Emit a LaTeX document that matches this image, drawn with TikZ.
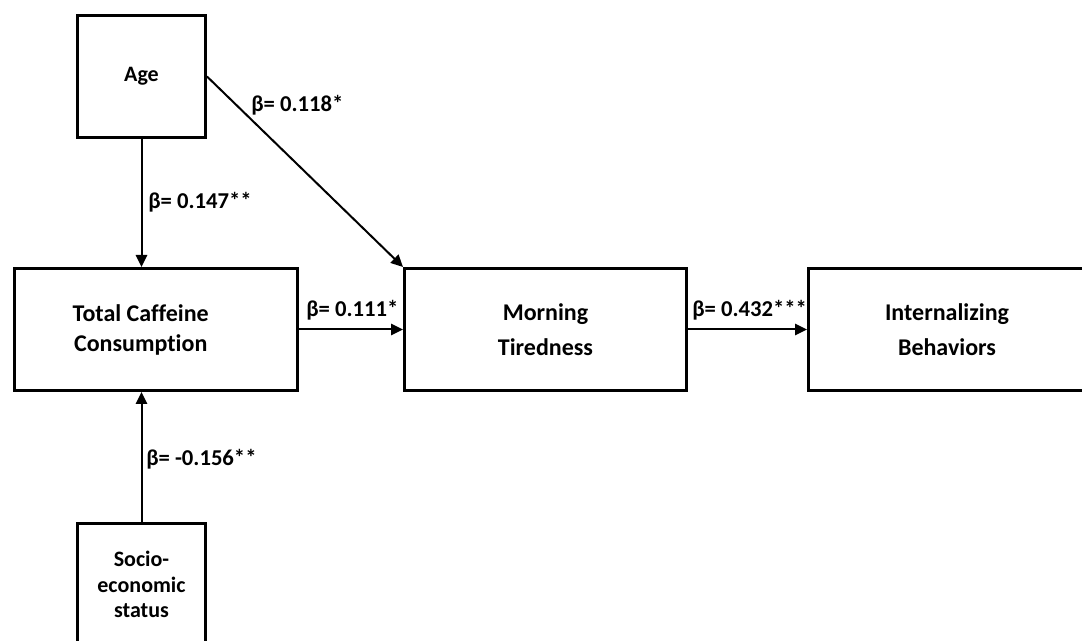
\documentclass[tikz,border=0pt]{standalone}
\usepackage{fontspec}
\setmainfont{Carlito}[Ligatures=NoCommon]
\usetikzlibrary{arrows.meta,positioning}

\begin{document}
\begin{tikzpicture}[x=0.75pt, y=-0.75pt,
	>={Triangle[length=9pt,width=8.5pt]},
	box/.style={draw, line width=2.25pt, minimum width=#1, minimum height=91.5pt,
		inner sep=0pt, align=center},
	boxtext/.style 2 args={align=center, font=\fontsize{#1}{#2}\selectfont\bfseries},
	coef/.style={anchor=base west, inner sep=0pt, font=\fontsize{17}{20}\selectfont\bfseries},
	path/.style={->, line width=1.5pt}]
	
	% Page frame
	\useasboundingbox (0,0) rectangle (1082,641);
	
	% Cut-off caption above the figure
	\node[anchor=base, font=\fontsize{17}{20}\selectfont\bfseries] (caption) at (15,-3.5) {g};
	
	% Boxes (variables)
	\node[box=96pt] (age) at (141.5,76.5) {};
	\node[box=212pt] (tcc) at (155.8,329.5) {};
	\node[box=211.5pt] (mt) at (545.5,329.5) {};
	\node[box=207.75pt] (ib) at (947,329.5) {};
	\node[box=96pt] (ses) at (141.5,584.5) {};
	
	% Texts inside the boxes
	\node[boxtext={16.5}{20}] (age-text) at (age.center) {Age};
	\node[boxtext={18}{22.5}] (tcc-text) at ([xshift=-11.3pt]tcc.center) {Total Caffeine\\Consumption};
	\node[boxtext={18}{26.25}] (mt-text) at (mt.center) {Morning\\Tiredness};
	\node[boxtext={18}{26.25}] (ib-text) at (ib.center) {Internalizing\\Behaviors};
	\node[boxtext={16.5}{19}] (ses-text) at (ses.center) {Socio-\\economic\\status};
	
	% Paths
	\draw[path] (age.south) -- (age.south |- tcc.north);
	\draw[path] (ses.north) -- (ses.north |- tcc.south);
	\draw[path] (age.east) -- (mt.north west);
	\draw[path] (tcc.east) -- (mt.west);
	\draw[path] (mt.east) -- (ib.west);
	
	% Path coefficients
	\node[coef] (b-age-tcc) at (148,209) {β= 0.147**};
	\node[coef] (b-age-mt) at (251,111.7) {β= 0.118*};
	\node[coef] (b-tcc-mt) at (306,317) {β= 0.111*};
	\node[coef] (b-mt-ib) at (692,317) {β= 0.432***};
	\node[coef] (b-ses-tcc) at (146,465) {β= -0.156**};
	
\end{tikzpicture}
\end{document}
